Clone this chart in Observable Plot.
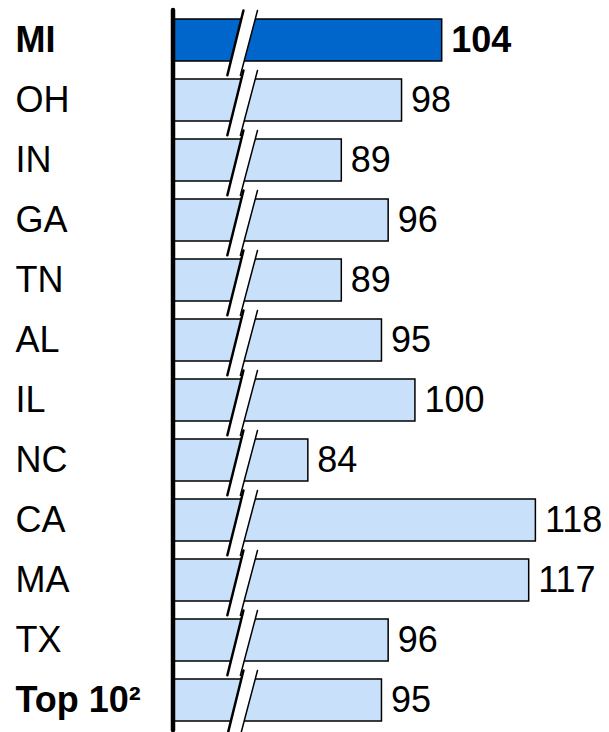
<!DOCTYPE html>
<html>
<head>
<meta charset="utf-8">
<script src="https://cdn.jsdelivr.net/npm/d3@7"></script>
<script src="https://cdn.jsdelivr.net/npm/@observablehq/plot@0.6"></script>
<style>
  html, body { margin: 0; padding: 0; }
  body { width: 609px; height: 732px; overflow: hidden; }
  #chart svg {
    display: block;
    background: linear-gradient(to bottom, #fbfdff 0%, #f4f8fe 30%, #e1ecfb 60%, #c6dcf7 100%);
  }
</style>
</head>
<body>
<div id="chart"></div>
<script>
// Data
const states = ["MI", "OH", "IN", "GA", "TN", "AL", "IL", "NC", "CA", "MA", "TX", "Top 10²"];
const values = [104, 98, 89, 96, 89, 95, 100, 84, 118, 117, 96, 95];
const boldLabels = ["MI", "Top 10²"];
const boldValues = ["MI"];
const highlightBar = "MI";

// Layout / break settings (not data)
const baseValue = 64;              // broken-axis baseline
const breakBottom = [71.9, 73.85]; // slash left/right edge at bottom of a row
const breakTop = [74.3, 76.4];     // slash left/right edge at top of a row

const rows = states.map((s, i) => ({state: s, value: values[i], i}));

const breakPoly = rows.flatMap(r => [
  {i: r.i, x: breakBottom[0], y: r.i + 0.58},
  {i: r.i, x: breakTop[0], y: r.i - 0.5},
  {i: r.i, x: breakTop[1], y: r.i - 0.5},
  {i: r.i, x: breakBottom[1], y: r.i + 0.58}
]);
const leftEdge = rows.flatMap(r => [
  {i: r.i, x: breakBottom[0], y: r.i + 0.58},
  {i: r.i, x: breakTop[0], y: r.i - 0.5}
]);
const rightEdge = rows.flatMap(r => [
  {i: r.i, x: breakBottom[1], y: r.i + 0.58},
  {i: r.i, x: breakTop[1], y: r.i - 0.5}
]);

const font = "'Liberation Sans', Arial, sans-serif";
const fs = 36;

const chart = Plot.plot({
  width: 609, height: 732,
  marginLeft: 174, marginRight: 0, marginTop: 10, marginBottom: 2,
  style: {fontFamily: font, background: "transparent"},
  x: {domain: [baseValue, 129], axis: null},
  y: {domain: [-0.5, 11.5], reverse: true, axis: null},
  marks: [
    Plot.rectX(rows, {
      x1: baseValue, x2: "value",
      y1: d => d.i - 0.35, y2: d => d.i + 0.35,
      fill: d => d.state === highlightBar ? "#0066cc" : "#c8e0f9",
      stroke: "black", strokeWidth: 1.5
    }),
    Plot.line(breakPoly, {x: "x", y: "y", z: "i", fill: "white", stroke: "none", curve: "linear-closed"}),
    Plot.line(leftEdge, {x: "x", y: "y", z: "i", stroke: "black", strokeWidth: 2.5}),
    Plot.line(rightEdge, {x: "x", y: "y", z: "i", stroke: "black", strokeWidth: 1.5}),
    Plot.ruleX([baseValue], {stroke: "black", strokeWidth: 4.5, dx: -1.5, strokeLinecap: "round"}),
    // value labels
    Plot.text(rows.filter(d => !boldValues.includes(d.state)), {
      x: "value", y: "i", text: d => String(d.value),
      textAnchor: "start", dx: 9, fontSize: fs, fill: "black"
    }),
    Plot.text(rows.filter(d => boldValues.includes(d.state)), {
      x: "value", y: "i", text: d => String(d.value),
      textAnchor: "start", dx: 9, fontSize: fs, fill: "black", fontWeight: "bold"
    }),
    // category labels
    Plot.text(rows.filter(d => !boldLabels.includes(d.state)), {
      frameAnchor: "left", y: "i", text: "state",
      textAnchor: "start", dx: -159, fontSize: fs, fill: "black"
    }),
    Plot.text(rows.filter(d => boldLabels.includes(d.state)), {
      frameAnchor: "left", y: "i", text: "state",
      textAnchor: "start", dx: -159, fontSize: fs, fill: "black", fontWeight: "bold"
    })
  ]
});
document.getElementById("chart").appendChild(chart);
</script>
</body>
</html>
